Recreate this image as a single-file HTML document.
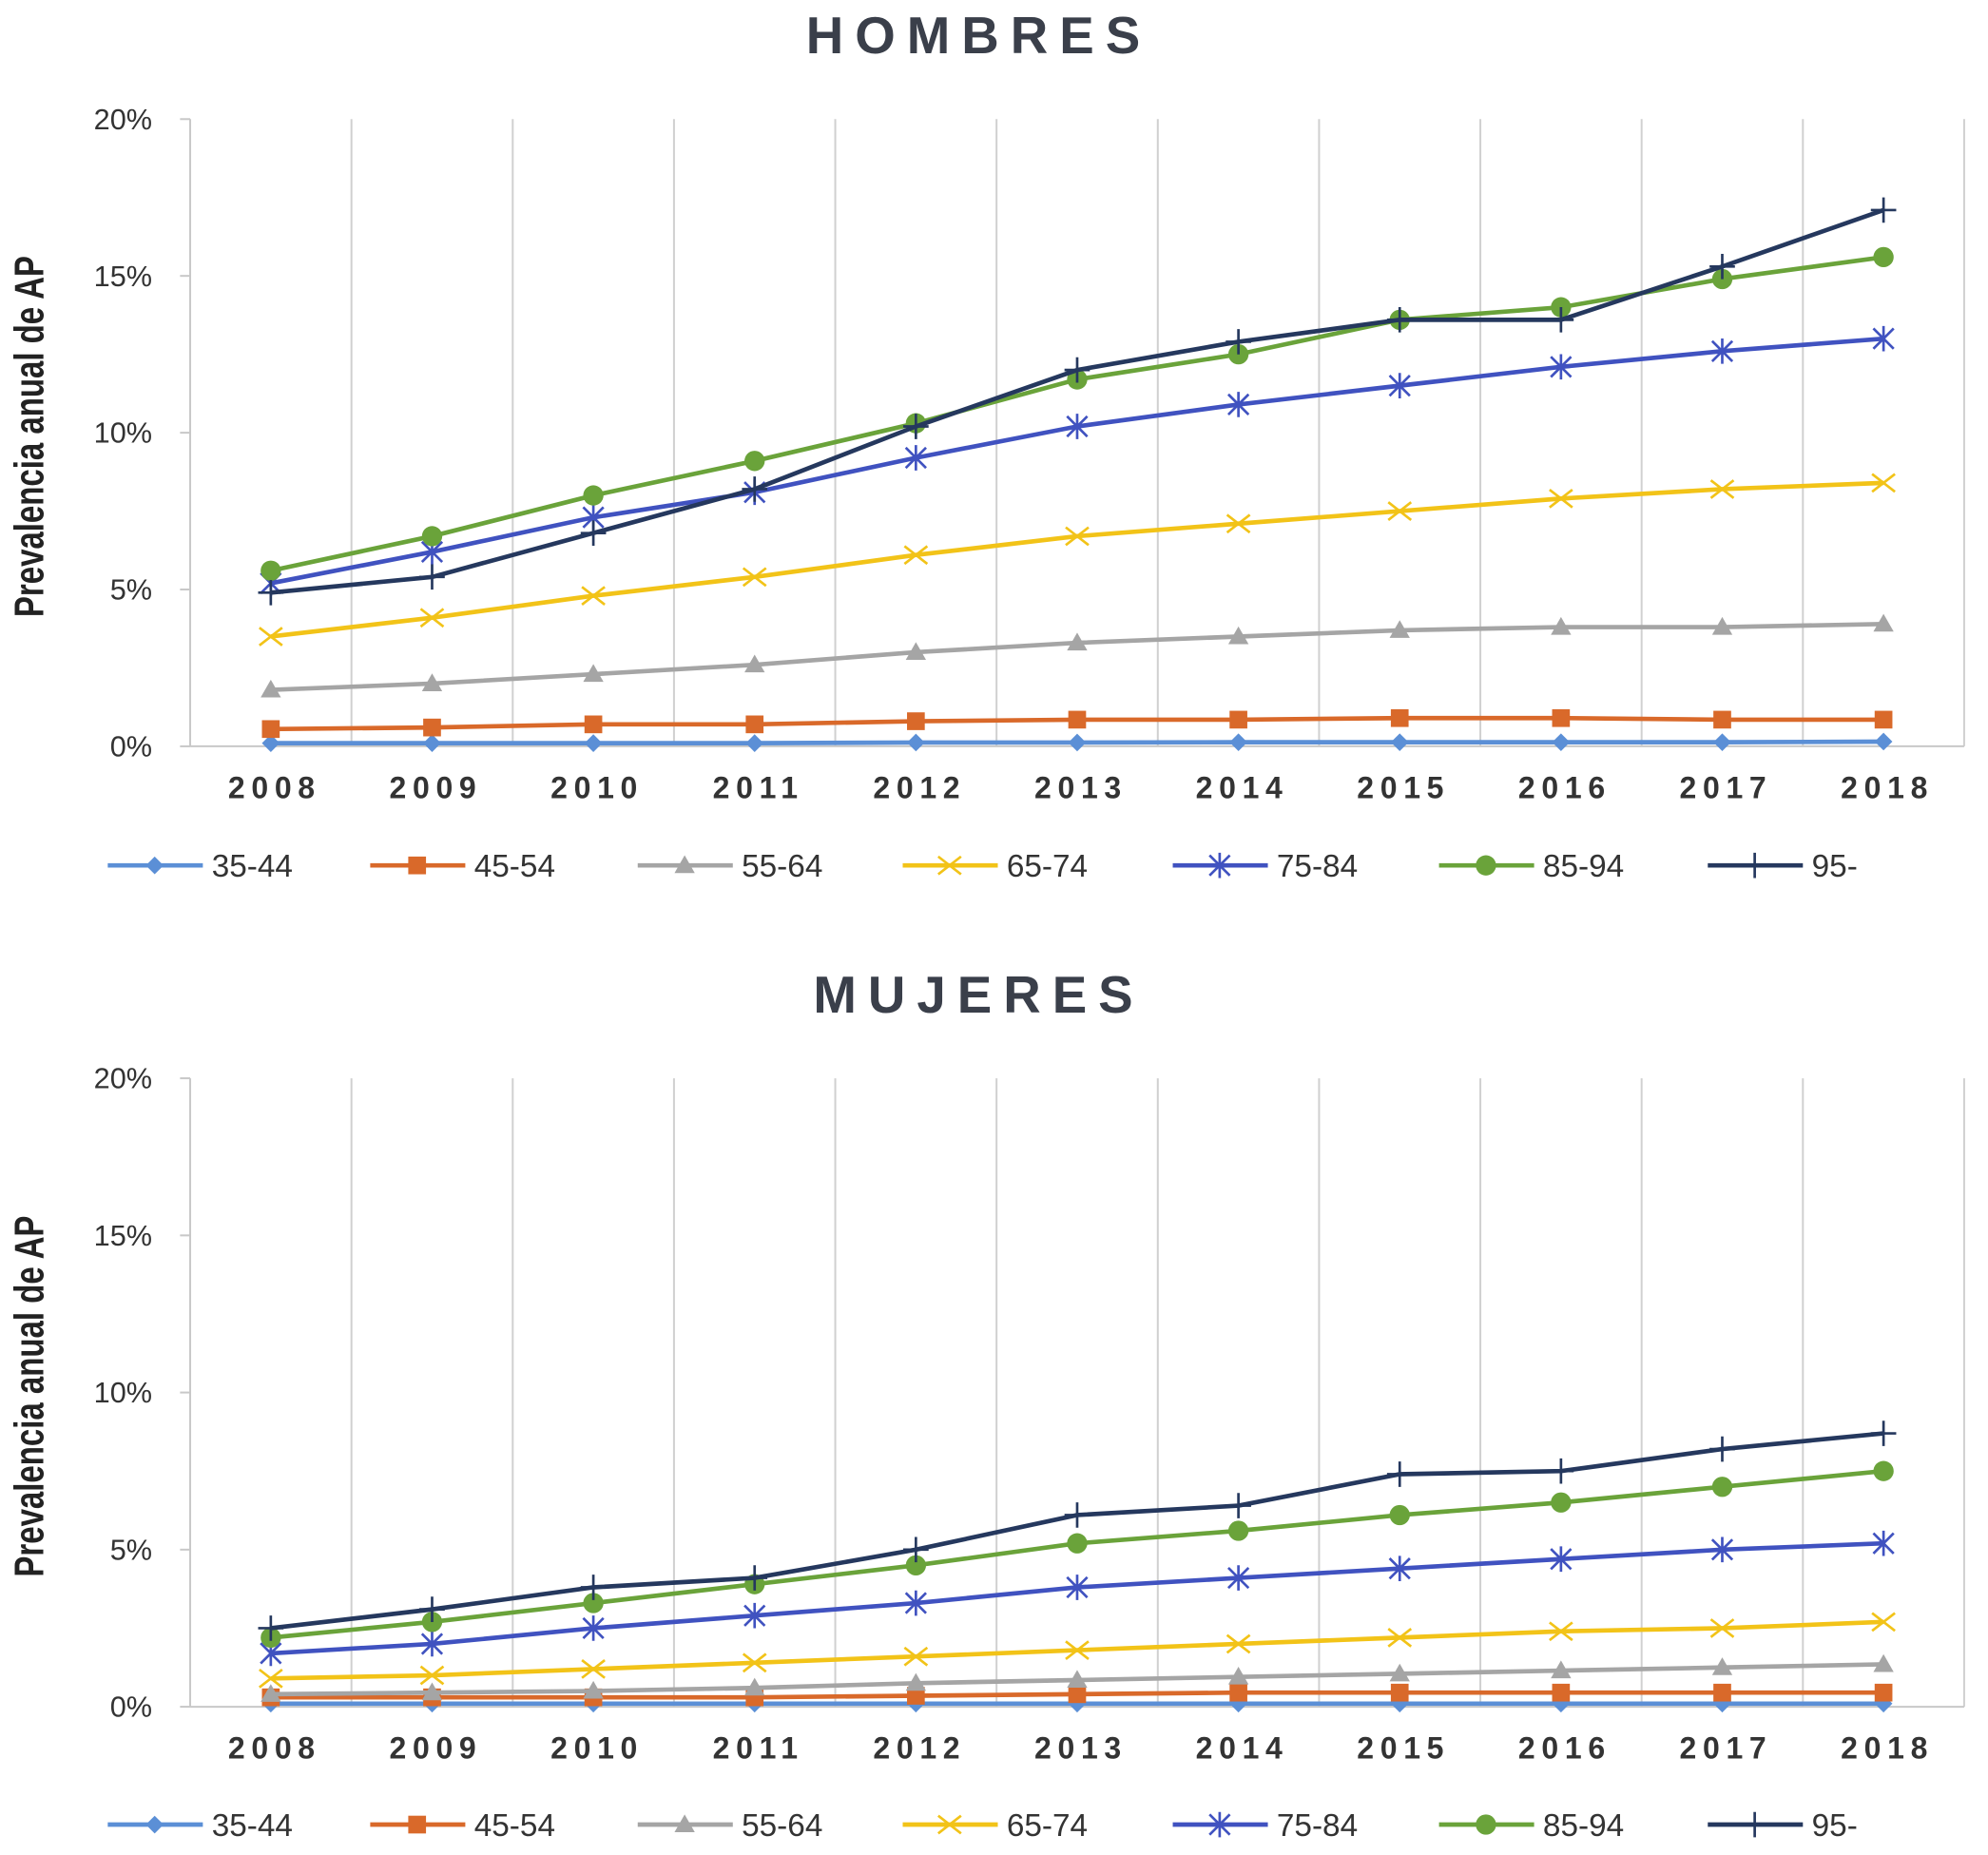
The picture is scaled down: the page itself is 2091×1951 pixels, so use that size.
<!DOCTYPE html>
<html><head><meta charset="utf-8"><style>
html,body{margin:0;padding:0;background:#fff;}
svg{display:block;}
text{font-family:"Liberation Sans",sans-serif;}
</style></head><body>
<svg id="chart" width="2091" height="1951" viewBox="0 0 1568 1464" preserveAspectRatio="none" xmlns="http://www.w3.org/2000/svg"></svg>
<script>
const years = ["2008","2009","2010","2011","2012","2013","2014","2015","2016","2017","2018"];
const seriesNames = ["35-44","45-54","55-64","65-74","75-84","85-94","95-"];
const yTicks = ["0%","5%","10%","15%","20%"];
const menValues = [
 [0.1,0.1,0.1,0.1,0.12,0.12,0.13,0.13,0.13,0.13,0.15],
 [0.55,0.6,0.7,0.7,0.8,0.85,0.85,0.9,0.9,0.85,0.85],
 [1.8,2.0,2.3,2.6,3.0,3.3,3.5,3.7,3.8,3.8,3.9],
 [3.5,4.1,4.8,5.4,6.1,6.7,7.1,7.5,7.9,8.2,8.4],
 [5.2,6.2,7.3,8.1,9.2,10.2,10.9,11.5,12.1,12.6,13.0],
 [5.6,6.7,8.0,9.1,10.3,11.7,12.5,13.6,14.0,14.9,15.6],
 [4.9,5.4,6.8,8.2,10.2,12.0,12.9,13.6,13.6,15.3,17.1]
];
const womenValues = [
 [0.1,0.1,0.1,0.1,0.1,0.1,0.1,0.1,0.1,0.1,0.1],
 [0.3,0.3,0.3,0.3,0.35,0.4,0.45,0.45,0.45,0.45,0.45],
 [0.4,0.45,0.5,0.6,0.75,0.85,0.95,1.05,1.15,1.25,1.35],
 [0.9,1.0,1.2,1.4,1.6,1.8,2.0,2.2,2.4,2.5,2.7],
 [1.7,2.0,2.5,2.9,3.3,3.8,4.1,4.4,4.7,5.0,5.2],
 [2.2,2.7,3.3,3.9,4.5,5.2,5.6,6.1,6.5,7.0,7.5],
 [2.5,3.1,3.8,4.1,5.0,6.1,6.4,7.4,7.5,8.2,8.7]
];
const colors=["#5b8fd6","#d9692a","#a5a5a5","#f2c318","#4052c0","#6aa33a","#25385e"];
const markers=["diamond","square","triangle","x","star","circle","plus"];
const NS="http://www.w3.org/2000/svg";
const svg=document.getElementById('chart');
function mk(tag,attrs,parent){const e=document.createElementNS(NS,tag);for(const k in attrs)e.setAttribute(k,attrs[k]);(parent||svg).appendChild(e);return e;}
function marker(g,type,x,y,c){
  let e;
  if(type==="diamond")e=mk('polygon',{points:`${x},${y-7} ${x+7},${y} ${x},${y+7} ${x-7},${y}`,fill:c},g);
  else if(type==="square")e=mk('rect',{x:x-7,y:y-7,width:14,height:14,fill:c},g);
  else if(type==="triangle")e=mk('polygon',{points:`${x},${y-8} ${x+8},${y+6} ${x-8},${y+6}`,fill:c},g);
  else if(type==="circle")e=mk('circle',{cx:x,cy:y,r:8,fill:c},g);
  else if(type==="x")e=mk('path',{d:`M${x-9},${y-7}L${x+9},${y+7}M${x-9},${y+7}L${x+9},${y-7}`,stroke:c,'stroke-width':2,fill:'none'},g);
  else if(type==="star")e=mk('path',{d:`M${x-8},${y-8}L${x+8},${y+8}M${x-8},${y+8}L${x+8},${y-8}M${x},${y-10}L${x},${y+10}`,stroke:c,'stroke-width':2,fill:'none'},g);
  else e=mk('path',{d:`M${x-10},${y}L${x+10},${y}M${x},${y-10}L${x},${y+10}`,stroke:c,'stroke-width':2,fill:'none'},g);
  
  
}
function panel(title,titleY,top,bottom,values,legendY,key){
  const g=mk('g',{});
  
  
  const left=150,cw=127.2,right=left+cw*11;
  const xs=i=>left+cw*(i+0.5);
  const ys=v=>bottom-(bottom-top)*v/20;
  const t=mk('text',{x:772,y:titleY,'text-anchor':'middle','font-size':41,'font-weight':'bold','letter-spacing':9,fill:'#3a3f4a'},g);
  t.textContent=title;
  for(let i=1;i<=11;i++){const l=mk('line',{x1:left+cw*i,x2:left+cw*i,y1:top,y2:bottom,stroke:'#d0d0d0','stroke-width':1.5},g);}
  const ax=mk('line',{x1:left,x2:left,y1:top,y2:bottom,stroke:'#c8c8c8','stroke-width':1.5},g);
  const bx=mk('line',{x1:left,x2:right,y1:bottom,y2:bottom,stroke:'#c8c8c8','stroke-width':1.5},g);
  yTicks.forEach((s,i)=>{const y=ys(i*5);mk('line',{x1:left-8,x2:left,y1:y,y2:y,stroke:'#c8c8c8','stroke-width':1.5},g);
    const tt=mk('text',{x:120,y:y+8,'text-anchor':'end','font-size':23,fill:'#333'},g);tt.textContent=s;});
  years.forEach((s,i)=>{const tt=mk('text',{x:xs(i)+3,y:bottom+41,'text-anchor':'middle','font-size':24,'font-weight':'bold','letter-spacing':5,fill:'#333'},g);tt.textContent=s;});
  const yl=mk('text',{transform:`translate(34,${(top+bottom)/2+3}) rotate(-90) scale(0.75,1)`,'text-anchor':'middle','font-size':33,'font-weight':'bold',fill:'#222'},g);
  yl.textContent="Prevalencia anual de AP";
  values.forEach((arr,si)=>{
    const sg=mk('g',{},g);
    const p=mk('polyline',{points:arr.map((v,i)=>xs(i)+','+ys(v)).join(' '),fill:'none',stroke:colors[si],'stroke-width':3.5},sg);
    
    arr.forEach((v,i)=>marker(sg,markers[si],xs(i),ys(v),colors[si]));
  });
  const lx=[85,292,503,712,925,1135,1347];
  seriesNames.forEach((n,si)=>{
    const lg=mk('g',{},g);
    mk('line',{x1:lx[si],x2:lx[si]+75,y1:legendY,y2:legendY,stroke:colors[si],'stroke-width':3.5},lg);
    marker(lg,markers[si],lx[si]+37,legendY,colors[si]);
    const tt=mk('text',{x:lx[si]+82,y:legendY+9,'font-size':25,fill:'#333'},lg);tt.textContent=n;
  });
}
panel("HOMBRES",42,94,589,menValues,683,'men');
panel("MUJERES",799,851,1347,womenValues,1440,'women');
</script>
</body></html>
